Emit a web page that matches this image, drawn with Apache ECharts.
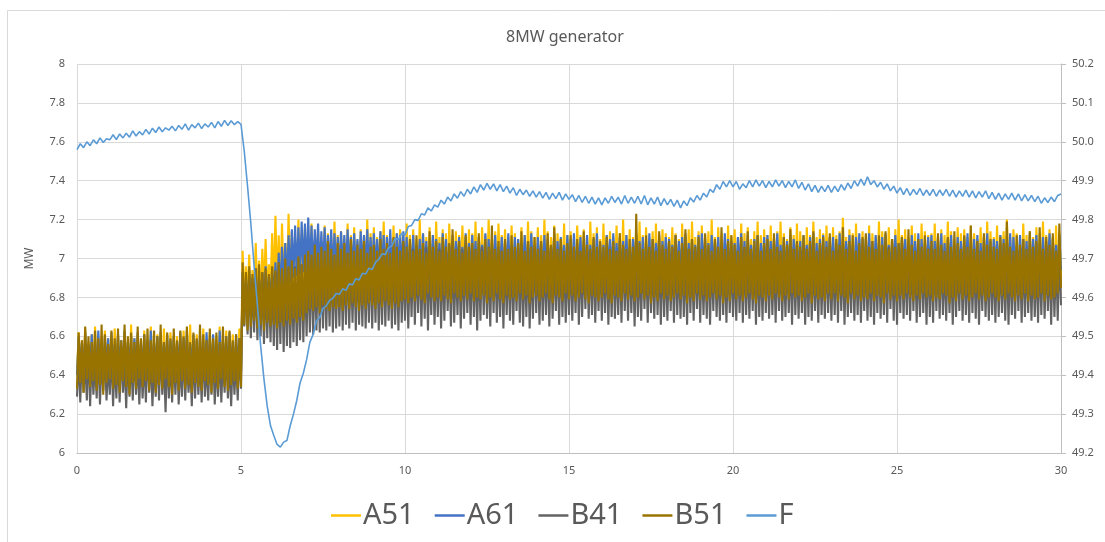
<!DOCTYPE html>
<html><head><meta charset="utf-8">
<script src="https://cdn.jsdelivr.net/npm/echarts@6/dist/echarts.min.js"></script>
<style>html,body{margin:0;padding:0;background:#fff}#c{width:1105px;height:542px}</style>
</head><body><div id="c"></div>
<script>
const TITLE = '8MW generator';
const Y_NAME = 'MW';
const DT_P = 0.05; // power sample step, seconds
const DT_F = 0.1;  // frequency sample step, seconds
const NAMES = ['A51', 'A61', 'B41', 'B51', 'F'];
const COLORS = ['#FFC000', '#4472C4', '#636363', '#997300', '#5B9BD5'];

const A51 = [
6.41,6.62,6.39,6.58,6.44,6.64,6.38,6.57,6.42,6.61,6.40,6.65,6.45,6.56,6.37,6.60,6.43,6.63,6.40,6.59,
6.44,6.57,6.38,6.64,6.42,6.60,6.46,6.55,6.39,6.62,6.41,6.58,6.43,6.66,6.37,6.59,6.44,6.61,6.40,6.56,
6.38,6.63,6.42,6.59,6.40,6.65,6.45,6.57,6.39,6.61,6.43,6.60,6.38,6.64,6.41,6.56,6.44,6.62,6.40,6.58,
6.43,6.60,6.39,6.56,6.41,6.63,6.37,6.59,6.44,6.66,6.40,6.58,6.42,6.61,6.38,6.57,6.45,6.64,6.41,6.59,
6.39,6.62,6.44,6.58,6.38,6.60,6.42,6.65,6.40,6.57,6.43,6.63,6.37,6.59,6.44,6.61,6.41,6.56,6.39,6.64,
6.42,7.04,6.78,6.96,6.80,7.02,6.76,6.94,6.81,7.08,6.79,6.99,6.77,7.05,6.82,7.10,6.80,6.97,6.84,7.13,
6.83,7.22,6.86,7.12,6.84,7.18,6.88,7.08,6.85,7.23,6.87,7.14,6.86,7.10,6.89,7.20,6.84,7.13,6.88,7.16,
6.87,7.12,6.90,7.18,6.86,7.10,6.89,7.15,6.88,7.09,6.91,7.17,6.86,7.13,6.90,7.11,6.87,7.19,6.89,7.12,
6.90,7.14,6.87,7.10,6.91,7.18,6.86,7.12,6.89,7.16,6.88,7.09,6.92,7.15,6.87,7.11,6.90,7.20,6.86,7.13,
6.89,7.16,6.87,7.11,6.90,7.14,6.88,7.19,6.86,7.12,6.91,7.10,6.89,7.17,6.87,7.13,6.92,7.15,6.88,7.09,
6.86,7.18,6.90,7.12,6.88,7.15,6.91,7.10,6.87,7.20,6.89,7.13,6.92,7.11,6.86,7.16,6.90,7.12,6.88,7.19,
6.91,7.11,6.87,7.15,6.89,7.13,6.86,7.18,6.90,7.10,6.88,7.14,6.93,7.12,6.87,7.17,6.89,7.11,6.91,7.15,
6.88,7.13,6.90,7.19,6.86,7.11,6.89,7.16,6.92,7.12,6.87,7.20,6.90,7.10,6.88,7.14,6.86,7.18,6.91,7.12,
6.89,7.15,6.87,7.11,6.90,7.17,6.88,7.13,6.86,7.10,6.91,7.16,6.89,7.12,6.87,7.19,6.90,7.14,6.88,7.11,
6.92,7.16,6.86,7.12,6.89,7.20,6.87,7.14,6.90,7.11,6.88,7.17,6.86,7.13,6.91,7.10,6.89,7.18,6.87,7.12,
6.90,7.14,6.88,7.10,6.86,7.17,6.91,7.12,6.89,7.15,6.87,7.11,6.90,7.19,6.88,7.13,6.86,7.16,6.92,7.10,
6.87,7.18,6.89,7.12,6.91,7.14,6.86,7.11,6.90,7.17,6.88,7.13,6.87,7.20,6.89,7.12,6.91,7.15,6.86,7.11,
6.90,7.13,6.88,7.19,6.86,7.12,6.89,7.16,6.87,7.10,6.92,7.14,6.88,7.18,6.90,7.11,6.86,7.15,6.89,7.13,
6.88,7.11,6.91,7.16,6.87,7.13,6.89,7.10,6.86,7.18,6.90,7.12,6.88,7.15,6.87,7.19,6.91,7.11,6.89,7.14,
6.86,7.17,6.90,7.12,6.88,7.14,6.87,7.20,6.91,7.11,6.89,7.16,6.86,7.13,6.90,7.10,6.88,7.17,6.87,7.12,
6.91,7.15,6.89,7.11,6.87,7.18,6.90,7.13,6.86,7.16,6.88,7.10,6.92,7.14,6.87,7.19,6.89,7.12,6.86,7.15,
6.89,7.12,6.87,7.17,6.90,7.11,6.88,7.14,6.91,7.19,6.86,7.13,6.89,7.10,6.87,7.16,6.90,7.12,6.88,7.18,
6.87,7.14,6.90,7.10,6.86,7.16,6.89,7.12,6.88,7.19,6.91,7.11,6.87,7.15,6.89,7.13,6.86,7.17,6.90,7.11,
6.88,7.16,6.86,7.12,6.91,7.14,6.87,7.21,6.89,7.11,6.88,7.15,6.90,7.13,6.86,7.18,6.89,7.10,6.87,7.14,
6.90,7.12,6.88,7.17,6.86,7.13,6.91,7.11,6.89,7.19,6.87,7.14,6.90,7.12,6.88,7.16,6.86,7.10,6.91,7.15,
6.87,7.20,6.89,7.12,6.91,7.15,6.86,7.11,6.88,7.17,6.90,7.13,6.87,7.10,6.89,7.18,6.86,7.14,6.90,7.12,
6.89,7.13,6.87,7.18,6.90,7.11,6.88,7.15,6.86,7.12,6.91,7.19,6.89,7.14,6.87,7.10,6.90,7.16,6.88,7.13,
6.86,7.15,6.90,7.11,6.88,7.17,6.87,7.13,6.91,7.10,6.89,7.16,6.86,7.12,6.90,7.19,6.88,7.14,6.87,7.11,
6.90,7.17,6.88,7.12,6.86,7.14,6.91,7.20,6.89,7.11,6.87,7.15,6.90,7.13,6.88,7.10,6.86,7.18,6.89,7.12,
6.88,7.14,6.86,7.11,6.90,7.16,6.87,7.13,6.89,7.19,6.91,7.12,6.88,7.15,6.86,7.11,6.90,7.17,6.87,7.13,
6.90];

const A61 = [
6.40,6.60,6.43,6.57,6.39,6.62,6.42,6.56,6.44,6.61,6.38,6.58,6.41,6.63,6.43,6.57,6.40,6.60,6.44,6.59,
6.39,6.62,6.42,6.56,6.40,6.61,6.43,6.58,6.38,6.63,6.41,6.57,6.44,6.60,6.39,6.59,6.42,6.62,6.40,6.56,
6.43,6.61,6.39,6.58,6.42,6.63,6.40,6.57,6.44,6.60,6.38,6.62,6.41,6.56,6.43,6.61,6.39,6.58,6.42,6.60,
6.40,6.57,6.44,6.62,6.39,6.59,6.42,6.63,6.40,6.56,6.43,6.61,6.38,6.58,6.41,6.60,6.44,6.57,6.39,6.62,
6.42,6.59,6.40,6.61,6.43,6.56,6.39,6.63,6.41,6.58,6.44,6.60,6.40,6.62,6.42,6.57,6.38,6.61,6.43,6.59,
6.41,6.92,6.74,6.88,6.72,6.94,6.76,6.90,6.73,6.95,6.75,6.89,6.77,6.93,6.74,6.96,6.76,6.91,6.78,6.95,
6.79,6.98,6.80,7.03,6.82,7.06,6.84,7.08,6.86,7.12,6.88,7.15,6.90,7.17,6.91,7.16,6.92,7.19,6.93,7.18,
6.92,7.21,6.94,7.17,6.93,7.15,6.95,7.18,6.92,7.14,6.94,7.16,6.93,7.12,6.95,7.15,6.92,7.13,6.94,7.11,
6.93,7.14,6.95,7.12,6.92,7.15,6.94,7.11,6.93,7.13,6.95,7.10,6.92,7.14,6.94,7.12,6.93,7.15,6.95,7.11,
6.92,7.13,6.94,7.10,6.93,7.14,6.95,7.12,6.92,7.11,6.94,7.15,6.93,7.10,6.95,7.13,6.92,7.12,6.94,7.14,
6.93,7.11,6.91,7.08,6.94,7.12,6.92,7.07,6.95,7.10,6.90,7.13,6.93,7.09,6.91,7.06,6.94,7.12,6.92,7.10,
6.95,7.08,6.91,7.13,6.93,7.10,6.90,7.07,6.94,7.12,6.92,7.09,6.95,7.11,6.91,7.06,6.93,7.13,6.90,7.08,
6.92,7.12,6.94,7.09,6.91,7.11,6.95,7.07,6.93,7.13,6.90,7.10,6.92,7.08,6.94,7.12,6.91,7.06,6.95,7.11,
6.90,7.09,6.93,7.13,6.92,7.07,6.94,7.11,6.91,7.10,6.95,7.08,6.93,7.12,6.90,7.09,6.92,7.13,6.94,7.07,
6.91,7.11,6.95,7.08,6.90,7.12,6.93,7.10,6.92,7.06,6.94,7.13,6.91,7.09,6.95,7.11,6.93,7.07,6.90,7.12,
6.94,7.10,6.92,7.13,6.91,7.08,6.95,7.11,6.90,7.09,6.93,7.12,6.92,7.07,6.94,7.10,6.91,7.13,6.93,7.08,
6.92,7.07,6.90,7.12,6.94,7.10,6.91,7.13,6.93,7.08,6.95,7.11,6.90,7.09,6.92,7.12,6.94,7.06,6.91,7.10,
6.95,7.12,6.93,7.09,6.90,7.11,6.92,7.07,6.94,7.13,6.91,7.10,6.93,7.08,6.95,7.12,6.90,7.09,6.92,7.11,
6.93,7.10,6.91,7.07,6.95,7.12,6.92,7.09,6.90,7.11,6.94,7.13,6.91,7.08,6.93,7.10,6.95,7.07,6.92,7.12,
6.90,7.13,6.94,7.10,6.92,7.08,6.91,7.12,6.95,7.09,6.93,7.11,6.90,7.07,6.92,7.13,6.94,7.10,6.91,7.09,
6.94,7.08,6.92,7.11,6.93,7.13,6.90,7.09,6.91,7.12,6.95,7.07,6.92,7.10,6.94,7.12,6.91,7.08,6.93,7.11,
6.91,7.12,6.95,7.09,6.90,7.10,6.93,7.13,6.92,7.07,6.94,7.11,6.91,7.09,6.93,7.12,6.90,7.10,6.95,7.08,
6.93,7.09,6.90,7.12,6.94,7.07,6.92,7.11,6.95,7.13,6.91,7.08,6.94,7.10,6.92,7.12,6.90,7.09,6.93,7.11,
6.92,7.11,6.94,7.08,6.91,7.13,6.90,7.10,6.93,7.09,6.95,7.12,6.92,7.07,6.91,7.11,6.94,7.13,6.90,7.10,
6.95,7.10,6.92,7.13,6.93,7.09,6.91,7.12,6.94,7.08,6.90,7.11,6.93,7.13,6.95,7.07,6.92,7.10,6.94,7.12,
6.91,7.08,6.93,7.11,6.95,7.10,6.92,7.07,6.90,7.12,6.94,7.09,6.91,7.13,6.93,7.10,6.92,7.08,6.95,7.11,
6.93,7.12,6.91,7.09,6.94,7.11,6.90,7.13,6.92,7.08,6.93,7.10,6.95,7.12,6.91,7.07,6.94,7.11,6.92,7.09,
6.90,7.11,6.94,7.13,6.92,7.07,6.95,7.10,6.91,7.12,6.93,7.08,6.92,7.11,6.90,7.13,6.94,7.09,6.91,7.10,
6.94,7.09,6.92,7.12,6.90,7.10,6.93,7.08,6.95,7.13,6.91,7.11,6.94,7.07,6.92,7.12,6.93,7.10,6.90,7.09,
6.92,7.13,6.90,7.10,6.93,7.12,6.91,7.08,6.94,7.11,6.92,7.09,6.95,7.13,6.90,7.10,6.93,7.07,6.91,7.12,
6.94];

const B41 = [
6.29,6.50,6.26,6.53,6.31,6.48,6.27,6.55,6.24,6.51,6.30,6.47,6.28,6.54,6.25,6.49,6.32,6.52,6.27,6.46,
6.30,6.53,6.24,6.49,6.28,6.51,6.26,6.55,6.31,6.47,6.23,6.52,6.29,6.50,6.27,6.54,6.30,6.48,6.25,6.51,
6.28,6.49,6.26,6.54,6.31,6.50,6.24,6.47,6.29,6.52,6.27,6.55,6.30,6.48,6.21,6.53,6.28,6.49,6.26,6.51,
6.30,6.52,6.25,6.48,6.29,6.54,6.27,6.50,6.31,6.46,6.24,6.53,6.28,6.51,6.30,6.49,6.26,6.55,6.29,6.47,
6.27,6.51,6.30,6.53,6.25,6.48,6.29,6.52,6.26,6.50,6.31,6.54,6.28,6.47,6.24,6.51,6.30,6.49,6.27,6.53,
6.33,6.93,6.65,6.90,6.61,6.92,6.59,6.88,6.62,6.91,6.58,6.89,6.60,6.92,6.56,6.90,6.59,6.88,6.57,6.91,
6.55,6.93,6.53,6.90,6.56,6.94,6.52,6.91,6.55,6.95,6.54,6.92,6.57,6.96,6.55,6.93,6.58,6.97,6.57,6.94,
6.60,6.97,6.62,7.00,6.61,6.96,6.63,7.01,6.62,6.98,6.64,7.00,6.63,6.97,6.65,7.02,6.62,6.99,6.64,7.01,
6.65,7.02,6.63,6.99,6.66,7.03,6.64,7.00,6.67,7.01,6.63,7.04,6.66,7.00,6.65,7.02,6.64,6.99,6.67,7.03,
6.64,7.01,6.67,7.03,6.63,7.00,6.66,7.04,6.65,7.02,6.68,6.99,6.64,7.03,6.66,7.01,6.63,7.04,6.67,7.00,
6.68,7.03,6.64,7.00,6.70,7.05,6.66,7.01,6.72,7.04,6.65,7.02,6.69,7.06,6.63,7.01,6.71,7.04,6.66,7.00,
6.70,7.05,6.64,7.02,6.68,7.04,6.73,7.01,6.65,7.06,6.67,7.00,6.71,7.03,6.64,7.05,6.69,7.02,6.72,7.01,
6.66,7.04,6.70,7.01,6.63,7.03,6.68,7.06,6.71,7.02,6.69,7.01,6.65,7.05,6.72,7.02,6.67,7.00,6.70,7.04,
6.64,7.03,6.71,7.01,6.68,7.05,6.66,7.02,6.73,7.03,6.67,7.06,6.65,7.00,6.70,7.04,6.64,7.01,6.69,7.05,
6.72,7.02,6.66,7.04,6.68,7.01,6.71,7.03,6.65,7.06,6.69,7.00,6.73,7.03,6.66,7.05,6.70,7.02,6.67,7.01,
6.71,7.04,6.68,7.01,6.72,7.06,6.66,7.03,6.70,7.00,6.74,7.05,6.69,7.02,6.71,7.04,6.67,7.01,6.73,7.03,
6.68,7.01,6.72,7.05,6.66,7.02,6.70,7.04,6.69,7.00,6.71,7.03,6.67,7.06,6.73,7.01,6.68,7.04,6.72,7.02,
6.65,7.05,6.70,7.00,6.68,7.03,6.74,7.02,6.67,7.04,6.72,7.01,6.69,7.04,6.71,7.02,6.66,7.05,6.70,7.01,
6.68,7.03,6.73,7.01,6.67,7.06,6.71,7.00,6.69,7.04,6.70,7.02,6.66,7.05,6.72,7.01,6.68,7.03,6.74,7.02,
6.67,7.04,6.71,7.01,6.69,7.05,6.66,7.02,6.73,7.03,6.70,7.00,6.68,7.04,6.71,7.02,6.67,7.05,6.72,7.01,
6.70,7.00,6.68,7.04,6.72,7.02,6.67,7.05,6.71,7.01,6.69,7.03,6.73,7.02,6.66,7.04,6.70,7.01,6.68,7.05,
6.72,7.02,6.69,7.04,6.71,7.01,6.67,7.05,6.73,7.03,6.68,7.00,6.70,7.04,6.72,7.02,6.66,7.05,6.71,7.01,
6.69,7.04,6.72,7.01,6.66,7.03,6.70,7.05,6.68,7.02,6.73,7.00,6.67,7.04,6.71,7.01,6.69,7.05,6.72,7.02,
6.68,7.01,6.71,7.04,6.67,7.06,6.73,7.02,6.66,7.03,6.70,7.01,6.72,7.05,6.68,7.02,6.71,7.04,6.67,7.00,
6.73,7.03,6.68,7.01,6.70,7.05,6.66,7.02,6.72,7.04,6.69,7.00,6.71,7.03,6.67,7.06,6.74,7.01,6.68,7.04,
6.66,7.02,6.72,7.04,6.69,7.01,6.71,7.05,6.68,7.02,6.73,7.03,6.67,7.01,6.70,7.04,6.72,7.02,6.66,7.05,
6.70,7.01,6.67,7.04,6.73,7.02,6.69,7.05,6.71,7.00,6.68,7.03,6.72,7.01,6.66,7.04,6.70,7.02,6.73,7.05,
6.68,7.03,6.71,7.01,6.67,7.05,6.72,7.02,6.69,7.04,6.66,7.01,6.73,7.03,6.70,7.00,6.68,7.05,6.71,7.02,
6.67,7.04,6.70,7.02,6.72,7.01,6.68,7.05,6.66,7.03,6.71,7.01,6.69,7.04,6.73,7.02,6.67,7.05,6.70,7.01,
6.72,7.02,6.68,7.04,6.70,7.01,6.67,7.03,6.71,7.05,6.69,7.02,6.73,7.01,6.66,7.04,6.70,7.02,6.68,7.05,
6.76];

const B51 = [
6.33,6.62,6.36,6.58,6.31,6.65,6.38,6.60,6.34,6.57,6.37,6.63,6.32,6.59,6.35,6.66,6.30,6.61,6.36,6.56,
6.38,6.63,6.33,6.59,6.35,6.64,6.31,6.58,6.37,6.66,6.34,6.60,6.30,6.62,6.36,6.57,6.33,6.65,6.38,6.59,
6.34,6.61,6.37,6.64,6.32,6.58,6.36,6.63,6.31,6.60,6.35,6.66,6.33,6.57,6.38,6.62,6.34,6.59,6.30,6.64,
6.36,6.58,6.32,6.63,6.37,6.60,6.33,6.65,6.35,6.57,6.31,6.62,6.36,6.59,6.34,6.66,6.32,6.61,6.37,6.58,
6.35,6.64,6.31,6.59,6.36,6.62,6.33,6.57,6.38,6.65,6.34,6.60,6.32,6.63,6.35,6.58,6.37,6.61,6.33,6.59,
6.34,6.98,6.66,6.93,6.63,6.96,6.65,6.92,6.68,6.95,6.64,6.97,6.66,6.93,6.63,6.95,6.67,6.92,6.65,6.96,
6.66,6.94,6.64,6.98,6.67,6.95,6.65,7.00,6.68,6.96,6.66,6.99,6.69,6.95,6.67,7.01,6.70,6.97,6.68,7.02,
6.72,7.04,6.74,7.02,6.73,7.07,6.75,7.03,6.72,7.06,6.76,7.04,6.74,7.09,6.73,7.05,6.75,7.02,6.74,7.08,
6.75,7.05,6.73,7.08,6.76,7.03,6.74,7.10,6.77,7.04,6.75,7.07,6.73,7.05,6.76,7.09,6.74,7.03,6.77,7.06,
6.76,7.07,6.74,7.04,6.77,7.10,6.75,7.05,6.78,7.08,6.76,7.03,6.74,7.11,6.77,7.06,6.75,7.04,6.78,7.09,
6.79,7.06,6.77,7.10,6.80,7.04,6.78,7.12,6.81,7.05,6.79,7.08,6.77,7.03,6.82,7.14,6.80,7.06,6.78,7.09,
6.80,7.04,6.78,7.11,6.81,7.06,6.79,7.08,6.77,7.15,6.82,7.05,6.80,7.09,6.78,7.03,6.81,7.12,6.79,7.06,
6.82,7.08,6.78,7.05,6.80,7.13,6.79,7.04,6.81,7.10,6.77,7.06,6.80,7.17,6.78,7.05,6.82,7.09,6.79,7.04,
6.77,7.10,6.81,7.05,6.79,7.12,6.80,7.06,6.78,7.08,6.82,7.14,6.79,7.04,6.81,7.09,6.77,7.06,6.80,7.11,
6.81,7.05,6.78,7.09,6.80,7.04,6.82,7.13,6.79,7.07,6.77,7.16,6.81,7.05,6.80,7.10,6.78,7.04,6.82,7.08,
6.79,7.12,6.81,7.06,6.78,7.10,6.80,7.04,6.82,7.14,6.79,7.07,6.77,7.05,6.81,7.11,6.80,7.06,6.78,7.09,
6.80,7.06,6.82,7.11,6.79,7.05,6.77,7.09,6.81,7.04,6.80,7.13,6.78,7.07,6.82,7.05,6.79,7.10,6.81,7.06,
6.78,7.23,6.80,7.08,6.82,7.05,6.79,7.12,6.81,7.06,6.77,7.10,6.80,7.04,6.78,7.14,6.82,7.07,6.79,7.05,
6.81,7.09,6.78,7.06,6.80,7.12,6.82,7.04,6.79,7.08,6.81,7.15,6.77,7.05,6.80,7.10,6.78,7.06,6.82,7.11,
6.79,7.05,6.81,7.13,6.78,7.07,6.80,7.04,6.82,7.10,6.79,7.06,6.81,7.16,6.77,7.05,6.80,7.09,6.78,7.12,
6.82,7.07,6.79,7.04,6.81,7.11,6.78,7.06,6.80,7.14,6.82,7.05,6.79,7.09,6.77,7.12,6.81,7.04,6.80,7.08,
6.78,7.10,6.81,7.05,6.79,7.13,6.82,7.06,6.80,7.04,6.78,7.11,6.81,7.07,6.79,7.15,6.82,7.05,6.80,7.09,
6.81,7.06,6.78,7.12,6.80,7.05,6.82,7.09,6.77,7.14,6.81,7.04,6.79,7.08,6.80,7.11,6.78,7.06,6.82,7.13,
6.79,7.04,6.82,7.10,6.78,7.07,6.81,7.16,6.80,7.05,6.77,7.09,6.82,7.12,6.79,7.04,6.81,7.08,6.78,7.11,
6.80,7.13,6.79,7.06,6.82,7.09,6.78,7.05,6.81,7.12,6.80,7.07,6.77,7.14,6.82,7.05,6.79,7.10,6.81,7.06,
6.78,7.08,6.81,7.11,6.79,7.05,6.82,7.15,6.80,7.07,6.78,7.04,6.81,7.10,6.79,7.06,6.82,7.12,6.80,7.05,
6.81,7.09,6.78,7.05,6.80,7.13,6.79,7.07,6.82,7.04,6.81,7.11,6.77,7.06,6.80,7.14,6.78,7.08,6.82,7.05,
6.79,7.12,6.81,7.06,6.78,7.17,6.80,7.05,6.82,7.09,6.79,7.04,6.81,7.13,6.78,7.07,6.80,7.10,6.82,7.06,
6.80,7.05,6.78,7.11,6.81,7.08,6.79,7.19,6.82,7.06,6.80,7.04,6.78,7.12,6.81,7.07,6.79,7.10,6.82,7.05,
6.78,7.14,6.81,7.06,6.79,7.09,6.80,7.16,6.82,7.05,6.78,7.11,6.81,7.07,6.79,7.13,6.80,7.04,6.82,7.18,
6.85];

const F_HZ = [
49.98,49.995,49.985,50.0,49.99,50.005,49.995,50.01,49.998,50.008,
50.005,50.018,50.006,50.02,50.01,50.022,50.012,50.028,50.015,50.026,
50.018,50.032,50.02,50.035,50.024,50.038,50.026,50.036,50.03,50.04,
50.028,50.042,50.032,50.046,50.03,50.044,50.036,50.048,50.034,50.046,
50.038,50.05,50.036,50.052,50.04,50.055,50.042,50.054,50.044,50.052,
50.045,49.975,49.885,49.79,49.68,49.58,49.475,49.39,49.32,49.27,
49.245,49.222,49.215,49.228,49.232,49.27,49.3,49.335,49.38,49.405,
49.44,49.485,49.505,49.54,49.548,49.572,49.578,49.592,49.598,49.61,
49.608,49.622,49.618,49.635,49.632,49.648,49.645,49.662,49.66,49.675,
49.672,49.69,49.698,49.712,49.71,49.728,49.732,49.752,49.748,49.765,
49.76,49.782,49.785,49.8,49.798,49.815,49.812,49.83,49.822,49.838,
49.832,49.85,49.84,49.858,49.848,49.866,49.855,49.872,49.86,49.878,
49.866,49.884,49.87,49.89,49.876,49.893,49.878,49.892,49.874,49.89,
49.872,49.886,49.868,49.882,49.862,49.878,49.864,49.876,49.86,49.874,
49.858,49.872,49.855,49.87,49.852,49.868,49.854,49.87,49.85,49.866,
49.852,49.864,49.846,49.862,49.844,49.86,49.842,49.858,49.84,49.856,
49.838,49.856,49.842,49.86,49.844,49.858,49.84,49.862,49.842,49.858,
49.842,49.86,49.84,49.862,49.838,49.856,49.84,49.858,49.836,49.854,
49.838,49.852,49.834,49.85,49.83,49.848,49.836,49.856,49.845,49.862,
49.85,49.868,49.858,49.878,49.87,49.89,49.878,49.898,49.884,49.9,
49.884,49.898,49.878,49.892,49.882,49.9,49.884,49.902,49.886,49.9,
49.882,49.898,49.884,49.902,49.886,49.9,49.882,49.898,49.884,49.902,
49.88,49.896,49.876,49.892,49.872,49.888,49.87,49.886,49.872,49.888,
49.87,49.886,49.872,49.89,49.876,49.894,49.88,49.9,49.886,49.904,
49.888,49.91,49.89,49.9,49.884,49.896,49.878,49.892,49.874,49.886,
49.868,49.882,49.864,49.88,49.862,49.878,49.864,49.88,49.862,49.876,
49.862,49.878,49.86,49.876,49.862,49.878,49.86,49.876,49.858,49.874,
49.86,49.876,49.858,49.874,49.856,49.872,49.858,49.874,49.854,49.87,
49.852,49.868,49.85,49.866,49.852,49.868,49.85,49.866,49.848,49.864,
49.848,49.862,49.846,49.86,49.842,49.856,49.844,49.858,49.846,49.862,
49.866];

const DATA = [A51, A61, B41, B51, F_HZ];
const STEPS = [DT_P, DT_P, DT_P, DT_P, DT_F];
const FONT = 'Noto Sans';
const TXT = '#595959';

function toPairs(arr, dt) { return arr.map((v, i) => [+(i * dt).toFixed(2), v]); }

const chart = echarts.init(document.getElementById('c'), null, { renderer: 'canvas' });
chart.setOption({
  animation: false,
  backgroundColor: '#fff',
  textStyle: { fontFamily: FONT },
  graphic: [{
    type: 'rect', silent: true, z: -10,
    shape: { x: 7.5, y: 10.5, width: 1200, height: 600 },
    style: { fill: 'none', stroke: '#D9D9D9', lineWidth: 1 }
  }],
  title: {
    text: TITLE, left: 501, top: 24,
    textStyle: { fontFamily: FONT, fontSize: 16, fontWeight: 'normal', color: TXT }
  },
  legend: {
    data: NAMES, left: 326, top: 496,
    icon: 'rect', itemWidth: 30, itemHeight: 2.5, itemGap: 20,
    textStyle: { fontFamily: FONT, fontSize: 29, color: TXT, padding: [0, 0, 0, -3] }
  },
  grid: { left: 77, right: 44, top: 64, bottom: 89 },
  xAxis: {
    type: 'value', min: 0, max: 30, interval: 5,
    axisLine: { show: true, lineStyle: { color: '#BFBFBF', width: 1 } },
    axisTick: { show: false },
    splitLine: { show: true, lineStyle: { color: '#D9D9D9', width: 1 } },
    axisLabel: { color: TXT, fontSize: 11, fontFamily: FONT, margin: 12 }
  },
  yAxis: [{
    type: 'value', min: 6, max: 8, interval: 0.2,
    name: Y_NAME, nameLocation: 'middle', nameGap: 41,
    nameTextStyle: { color: TXT, fontSize: 12, fontFamily: FONT },
    axisLine: { show: false }, axisTick: { show: false },
    splitLine: { show: true, lineStyle: { color: '#D9D9D9', width: 1 } },
    axisLabel: { color: TXT, fontSize: 11, fontFamily: FONT, margin: 12,
      formatter: v => String(Math.round(v * 10) / 10) }
  }, {
    type: 'value', min: 49.2, max: 50.2, interval: 0.1, position: 'right',
    axisLine: { show: true, lineStyle: { color: '#BFBFBF', width: 1 } },
    axisTick: { show: true, length: 5, lineStyle: { color: '#BFBFBF' } },
    splitLine: { show: false },
    axisLabel: { color: TXT, fontSize: 11, fontFamily: FONT, margin: 11,
      formatter: v => v.toFixed(1) }
  }],
  series: NAMES.map((name, k) => ({
    name, type: 'line', yAxisIndex: k === 4 ? 1 : 0,
    data: toPairs(DATA[k], STEPS[k]), showSymbol: false, symbol: 'none',
    sampling: null, color: COLORS[k],
    lineStyle: { color: COLORS[k], width: k === 4 ? 1.6 : 2.1 },
    emphasis: { disabled: true }, z: 2 + k
  }))
});
</script></body></html>
